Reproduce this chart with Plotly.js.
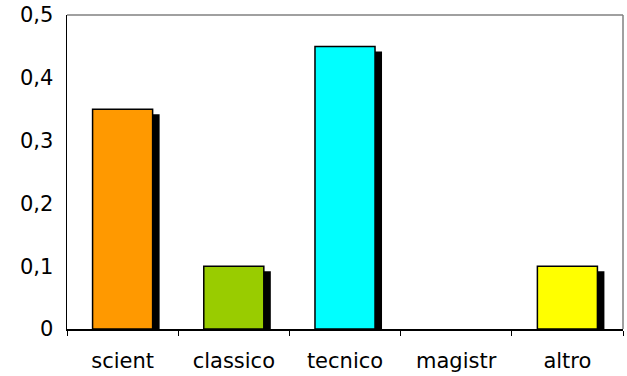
<!DOCTYPE html>
<html>
<head>
<meta charset="utf-8">
<script src="https://cdn.plot.ly/plotly-3.0.1.min.js"></script>
<style>
  html, body { margin: 0; padding: 0; background: #fff; }
  #chart { width: 627px; height: 376px; }
</style>
</head>
<body>
<div id="chart"></div>
<script>
// Share of students by type of secondary school
const categories = ['scient', 'classico', 'tecnico', 'magistr', 'altro'];
const values = [0.35, 0.1, 0.45, 0, 0.1];
const barColors = ['#FF9900', '#99CC00', '#00FFFF', '#FF00FF', '#FFFF00'];
const yTicks = [0, 0.1, 0.2, 0.3, 0.4, 0.5];

// plot geometry (pixels) used for the drop shadow offset
const plotW = 556, plotH = 314;
const yMax = 0.5;
const barWidth = 0.54;          // in category units
const shadowDx = 7 / (plotW / categories.length);
const shadowDy = 5 / plotH * yMax;

const shadow = {
  type: 'bar',
  x: categories,
  y: values.map(v => Math.max(0, v - shadowDy)),
  width: barWidth,
  offset: -barWidth / 2 + shadowDx,
  marker: { color: '#000000', line: { width: 0 } },
  hoverinfo: 'skip',
  showlegend: false
};

const bars = {
  type: 'bar',
  x: categories,
  y: values,
  width: barWidth,
  offset: -barWidth / 2,
  marker: {
    color: barColors,
    line: { color: '#000000', width: values.map(v => (v > 0 ? 1.5 : 0)) }
  },
  showlegend: false
};

const layout = {
  width: 627,
  height: 376,
  margin: { l: 67, r: 4, t: 15, b: 47, pad: 0 },
  paper_bgcolor: '#ffffff',
  plot_bgcolor: '#ffffff',
  barmode: 'overlay',
  separators: ',.',
  font: { family: 'DejaVu Sans, Verdana, sans-serif', size: 21, color: '#000000' },
  xaxis: {
    type: 'category',
    showgrid: false,
    zeroline: false,
    showline: true,
    linecolor: '#000000',
    linewidth: 1.5,
    ticks: 'outside',
    tickson: 'boundaries',
    ticklen: 5,
    tickcolor: '#000000',
    tickwidth: 1,
    ticklabelstandoff: 12,
    tickfont: { size: 21 },
    fixedrange: true
  },
  yaxis: {
    range: [0, yMax],
    tickvals: yTicks,
    tickformat: '.1~f',
    showgrid: false,
    zeroline: false,
    showline: true,
    linecolor: '#000000',
    linewidth: 1.5,
    ticks: '',
    ticklabelstandoff: 8,
    tickfont: { size: 21 },
    fixedrange: true
  },
  shapes: [
    { type: 'line', xref: 'paper', yref: 'paper', x0: 0, x1: 1, y0: 1, y1: 1,
      line: { color: '#808080', width: 1.5 } },
    { type: 'line', xref: 'paper', yref: 'paper', x0: 1, x1: 1, y0: 0, y1: 1,
      line: { color: '#808080', width: 1.5 } }
  ]
};

Plotly.newPlot('chart', [shadow, bars], layout, { displayModeBar: false, staticPlot: true });
</script>
</body>
</html>
